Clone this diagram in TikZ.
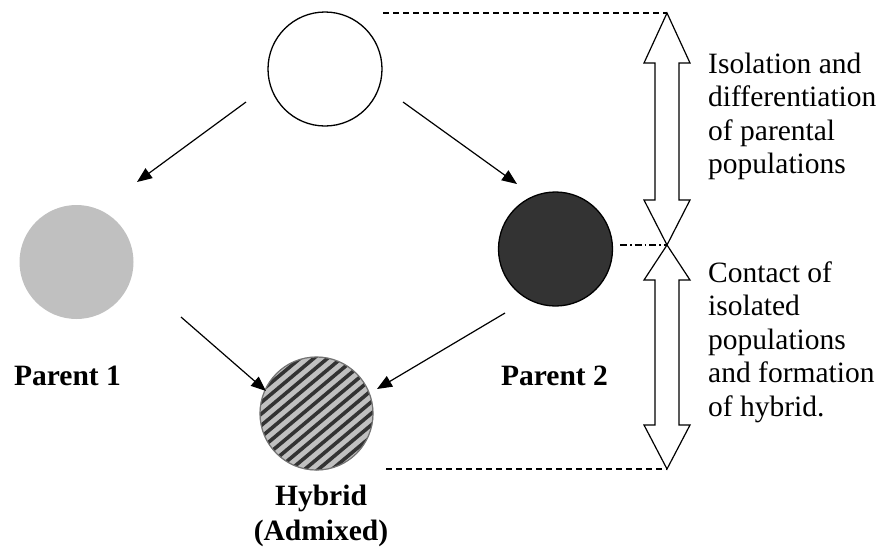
\documentclass[tikz,border=0pt]{standalone}
\usepackage{fontspec}
\setmainfont{Liberation Serif}
\usetikzlibrary{arrows.meta}
\definecolor{lightg}{HTML}{C0C0C0}
\definecolor{darkg}{HTML}{333333}
\begin{document}
\begin{tikzpicture}[x=1pt,y=-1pt,
  pop/.style={circle,minimum size=114pt,inner sep=0pt,line width=1.3pt},
  conn/.style={line width=1.2pt,-{Triangle[length=15pt,width=12pt]}},
  lbl/.style={font=\fontsize{29.5}{33.5}\selectfont,inner sep=0pt},
  blbl/.style={font=\fontsize{29.5}{35}\selectfont\bfseries,inner sep=0pt,align=center},
  blockarrow/.style={draw,line width=1.2pt,line join=miter}]
\useasboundingbox (0,0) rectangle (885,550);
% populations
\node[pop,draw,fill=white] (anc) at (325,69) {};
\node[pop,fill=lightg] (p1) at (76.5,262) {};
\node[pop,draw,fill=darkg] (p2) at (555.5,249) {};
\node[pop,fill=lightg] (hyb) at (316.5,413.5) {};
\begin{scope}
  \clip (hyb.center) circle (56.5);
  \begin{scope}[shift={(hyb.center)},rotate=40]
    \foreach \k in {-8,...,8}
      \draw[darkg,line width=3.6pt] (-90,{\k*8.8}) -- (90,{\k*8.8});
  \end{scope}
\end{scope}
\draw[gray!90!black,line width=1.2pt] (hyb.center) circle (56.5);
% connector end points
\coordinate (a1s) at (246,102); \coordinate (a1e) at (137,182);
\coordinate (a2s) at (403,102); \coordinate (a2e) at (517,184);
\coordinate (a3s) at (181,317); \coordinate (a3e) at (266,391);
\coordinate (a4s) at (505,313); \coordinate (a4e) at (377,389);
\draw[conn] (a1s) -- (a1e);
\draw[conn] (a2s) -- (a2e);
\draw[conn] (a3s) -- (a3e);
\draw[conn] (a4s) -- (a4e);
% labels
\node[blbl,anchor=base] (l1) at (67.5,385) {Parent 1};
\node[blbl,anchor=base] (l2) at (554.5,385) {Parent 2};
\node[blbl,anchor=base] (lh) at (321,505) {Hybrid};
\node[blbl,anchor=base] (lh2) at (321,540) {(Admixed)};
% block arrows
\coordinate (tipT) at (667,13);
\coordinate (tipM) at (667,245);
\coordinate (tipB) at (667,469);
\draw[blockarrow] (tipT) -- (690,63) -- (679,63) -- (679,200) -- (690,200) -- (tipM)
  -- (644,200) -- (655,200) -- (655,63) -- (644,63) -- cycle;
\draw[blockarrow] (tipM) -- (690,280) -- (679,280) -- (679,425) -- (690,425) -- (tipB)
  -- (644,425) -- (655,425) -- (655,280) -- (644,280) -- cycle;
\coordinate (dT) at (383,13);
\coordinate (dB) at (386,469);
\coordinate (dM) at (620,245);
\draw[line width=1.2pt,dash pattern=on 6pt off 4pt] (dT) -- (tipT);
\draw[line width=1.2pt,dash pattern=on 6pt off 4pt] (dB) -- (tipB);
\draw[line width=1.2pt,dash pattern=on 7pt off 3pt on 1.5pt off 3pt] (dM) -- (tipM);
% texts (base anchor = baseline of last line)
\node[lbl,anchor=base west,align=left] (t1) at (708,173.5) {Isolation and\\differentiation\\of parental\\populations};
\node[lbl,anchor=base west,align=left] (t2) at (708,416) {Contact of\\isolated\\populations\\and formation\\of hybrid.};
\end{tikzpicture}
\end{document}
